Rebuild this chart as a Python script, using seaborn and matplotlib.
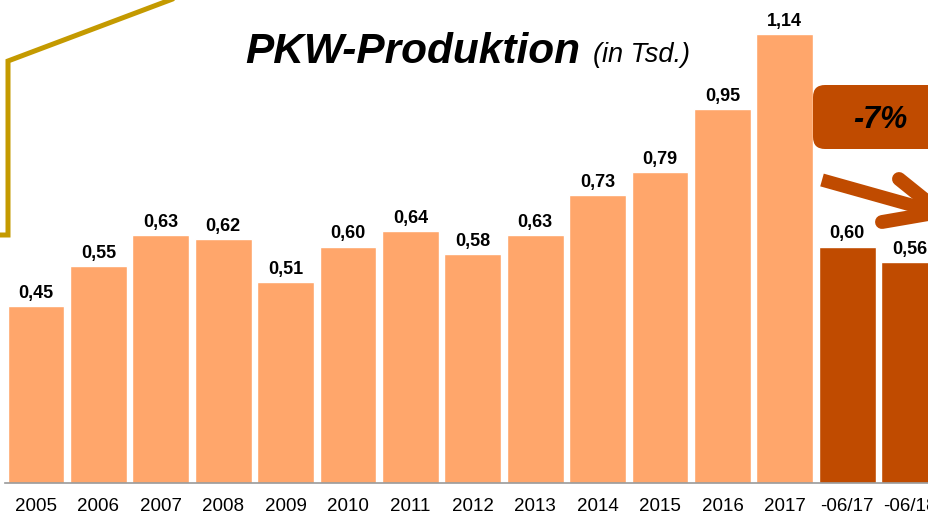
"""
PKW-Produktion (in Tsd.) - Balkendiagramm
"""

import numpy as np
import matplotlib
matplotlib.use('Agg')
import matplotlib.pyplot as plt
from matplotlib.lines import Line2D
from matplotlib.patches import FancyBboxPatch
import seaborn as sns

# Daten
jahre = ['2005', '2006', '2007', '2008', '2009', '2010', '2011', '2012',
         '2013', '2014', '2015', '2016', '2017', '-06/17', '-06/18']
werte = [0.45, 0.55, 0.63, 0.62, 0.51, 0.60, 0.64, 0.58,
         0.63, 0.73, 0.79, 0.95, 1.14, 0.60, 0.56]
gruppe = ['Jahr'] * 13 + ['Halbjahr'] * 2
farben = {'Jahr': '#FFA66B', 'Halbjahr': '#C04B00'}
veraenderung = '-7%'

W, H = 929, 515
DPI = 100


def px(x, y):
    """Pixel (oben links) -> Zoll (unten links)"""
    return x / DPI, (H - y) / DPI


sns.set_theme(style='white')
plt.rcParams['font.family'] = ['Liberation Sans', 'DejaVu Sans']
plt.rcParams['text.color'] = 'black'

fig = plt.figure(figsize=(W / DPI, H / DPI), dpi=DPI)
ax = fig.add_axes([4.8 / W, (H - 483) / H, 1 - 4.8 / W, 483 / H])

sns.barplot(x=jahre, y=werte, hue=gruppe, palette=farben, dodge=False,
            width=0.91, saturation=1, legend=False, ax=ax)

ax.set_xlim(-0.5, 14.31)
ax.set_ylim(0, 483 / 394)
ax.set_yticks([])
ax.set_xlabel('')
ax.set_ylabel('')
for s in ['top', 'right', 'left']:
    ax.spines[s].set_visible(False)
ax.spines['bottom'].set_color('#999999')
ax.spines['bottom'].set_linewidth(1.2)
ax.tick_params(axis='x', length=0, pad=11, labelsize=13.5, labelcolor='black')

# Werte über den Balken
for cont in ax.containers:
    labs = [f'{b.get_height():.2f}'.replace('.', ',') for b in cont]
    ax.bar_label(cont, labels=labs, padding=3, fontsize=13,
                 fontweight='bold', color='black')

# Titel
fig.text(245 / W, 1 - 63 / H, 'PKW-Produktion', fontsize=30.5,
         fontweight='bold', fontstyle='italic', ha='left', va='baseline')
fig.text(593 / W, 1 - 62 / H, '(in Tsd.)', fontsize=19.5,
         fontstyle='italic', ha='left', va='baseline')

# Goldene Linie oben links
pts = [px(0, 235), px(8, 235), px(8, 61), px(178, -3)]
fig.add_artist(Line2D([p[0] for p in pts], [p[1] for p in pts],
                      transform=fig.dpi_scale_trans, color='#C49A00',
                      linewidth=3.6, solid_joinstyle='miter'))

# Box mit Veränderung
x0, y0 = px(813, 149)
box = FancyBboxPatch((x0, y0), 1.4, 0.64,
                     boxstyle='round,pad=0,rounding_size=0.12',
                     transform=fig.dpi_scale_trans, facecolor='#C04B00',
                     edgecolor='none')
fig.add_artist(box)
tx, ty = px(880, 120)
fig.text(tx, ty, veraenderung, transform=fig.dpi_scale_trans, fontsize=22,
         fontweight='bold', fontstyle='italic', ha='center', va='center')

# Pfeil
for (a, b), cap, lw in [(((822, 180), (936, 212)), 'butt', 9.5),
                        (((899, 179), (940, 212)), 'round', 10),
                        (((882, 222), (940, 212)), 'round', 10)]:
    pa, pb = px(*a), px(*b)
    fig.add_artist(Line2D([pa[0], pb[0]], [pa[1], pb[1]],
                          transform=fig.dpi_scale_trans, color='#C04B00',
                          linewidth=lw, solid_capstyle=cap))

fig.savefig('out.png', dpi=DPI)
plt.close(fig)
